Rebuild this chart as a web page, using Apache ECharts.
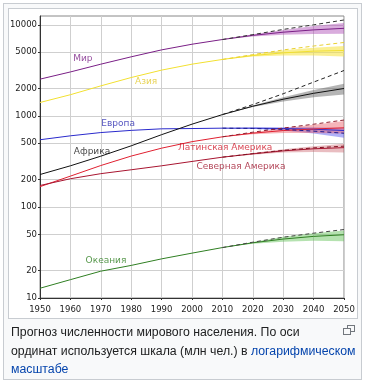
<!DOCTYPE html>
<html><head><meta charset="utf-8">
<script src="https://cdn.jsdelivr.net/npm/echarts@6/dist/echarts.min.js"></script>
<style>
html,body{margin:0;padding:0;width:370px;height:382px;background:#fff;overflow:hidden}
#outer{position:absolute;left:3px;top:3px;width:357px;height:375px;border:1px solid #c8ccd1;background:#f8f9fa}
#img{position:absolute;left:8px;top:8px;width:348px;height:309px;border:1px solid #c8ccd1;background:#fff}
#chart{position:absolute;left:0;top:0;width:370px;height:382px}
#cap{position:absolute;left:11px;top:323px;font-size:12.3px;font-family:'Liberation Sans',Arial,sans-serif;line-height:18.5px;color:#202122;white-space:nowrap}
#cap a{color:#0645ad;text-decoration:none}
.m1{position:absolute;left:347px;top:325px;width:6px;height:5px;border:1px solid #72777d;background:#f8f9fa}
.m2{position:absolute;left:343px;top:328px;width:6px;height:5px;border:1px solid #72777d;background:#f8f9fa}
</style></head>
<body>
<div id="outer"></div>
<div id="img"></div>
<div id="chart"></div>
<div class="m1"></div><div class="m2"></div>
<div id="cap">Прогноз численности мирового населения. По оси<br>ординат используется шкала (млн чел.) в <a href="#">логарифмическом</a><br><a href="#">масштабе</a></div>
<script>
// ---- data (millions) ----
const histYears = [1950, 1960, 1970, 1980, 1990, 2000, 2010];
const projYears = [2010, 2020, 2030, 2040, 2050];
const yTicks = [10, 20, 50, 100, 200, 500, 1000, 2000, 5000, 10000];

const worldHist = [2532, 3038, 3696, 4453, 5306, 6123, 6896];
const worldMed = [6896, 7660, 8300, 8800, 9150];
const worldLow = [6896, 7450, 7800, 7950, 7960];
const worldHigh = [6896, 7870, 8800, 9700, 10460];
const worldConst = [6896, 7800, 8900, 10000, 11300];

const asiaHist = [1403, 1708, 2135, 2638, 3181, 3698, 4167];
const asiaMed = [4167, 4600, 4920, 5140, 5230];
const asiaLow = [4167, 4480, 4600, 4600, 4480];
const asiaHigh = [4167, 4720, 5250, 5600, 5850];
const asiaConst = [4167, 4700, 5300, 5850, 6400];

const africaHist = [227, 283, 361, 469, 622, 811, 1033];
const africaMed = [1033, 1276, 1524, 1770, 1998];
const africaLow = [1033, 1250, 1440, 1600, 1720];
const africaHigh = [1033, 1300, 1600, 1930, 2250];
const africaConst = [1033, 1330, 1750, 2350, 3150];

const europeHist = [547, 604, 656, 693, 721, 726, 733];
const europeMed = [733, 733, 726, 713, 691];
const europeLow = [733, 720, 690, 640, 575];
const europeHigh = [733, 745, 750, 750, 735];
const europeConst = [733, 728, 710, 680, 645];

const latamHist = [167, 218, 285, 362, 442, 521, 589];
const latamMed = [589, 646, 690, 718, 740];
const latamLow = [589, 630, 650, 650, 640];
const latamHigh = [589, 662, 730, 800, 880];
const latamConst = [589, 662, 735, 810, 900];

const naHist = [172, 204, 232, 256, 283, 316, 352];
const naMed = [352, 383, 413, 435, 448];
const naLow = [352, 375, 395, 400, 395];
const naHigh = [352, 392, 430, 465, 495];
const naConst = [352, 385, 418, 445, 465];

const oceHist = [12.8, 15.9, 19.7, 22.8, 26.9, 31.1, 35.8];
const oceMed = [35.8, 40.4, 44.4, 47.5, 49.5];
const oceLow = [35.8, 39.5, 41.5, 42.5, 42];
const oceHigh = [35.8, 41.3, 47, 51.5, 55];
const oceConst = [35.8, 41, 46.5, 51.5, 56.5];

// label anchors [year, value]
const labelNames = ['Мир', 'Азия', 'Европа', 'Африка', 'Латинская Америка', 'Северная Америка', 'Океания'];
const labelAnchors = [[1964.1, 4230], [1984.9, 2365], [1975.7, 817], [1967.1, 402], [2010.9, 445], [2016.1, 276], [1971.7, 25.5]];

const regions = [
  {hist: worldHist, med: worldMed, low: worldLow, high: worldHigh, cst: worldConst, line: '#7a1f86', band: 'rgba(170,70,180,0.45)', dash: '#333', label: '#7a1f86'},
  {hist: asiaHist, med: asiaMed, low: asiaLow, high: asiaHigh, cst: asiaConst, line: '#f2e030', band: 'rgba(245,225,60,0.55)', dash: '#e8d030', label: '#e2c82a'},
  {hist: europeHist, med: europeMed, low: europeLow, high: europeHigh, cst: europeConst, line: '#2a2acc', band: 'rgba(80,80,240,0.45)', dash: '#1a1a90', label: '#2a2ab0'},
  {hist: africaHist, med: africaMed, low: africaLow, high: africaHigh, cst: africaConst, line: '#111', band: 'rgba(90,90,90,0.45)', dash: '#222', label: '#111'},
  {hist: latamHist, med: latamMed, low: latamLow, high: latamHigh, cst: latamConst, line: '#e02030', band: 'rgba(235,90,100,0.45)', dash: '#902030', label: '#d01828'},
  {hist: naHist, med: naMed, low: naLow, high: naHigh, cst: naConst, line: '#a81530', band: 'rgba(200,90,100,0.40)', dash: '#801020', label: '#a01830'},
  {hist: oceHist, med: oceMed, low: oceLow, high: oceHigh, cst: oceConst, line: '#2f7f22', band: 'rgba(90,190,80,0.45)', dash: '#444', label: '#2f7f22'}
];

const series = [];
regions.forEach((r) => {
  series.push({
    type: 'custom', silent: true, z: 1,
    data: projYears.map((y, k) => [y, r.low[k], r.high[k]]),
    encode: {x: 0, y: [1, 2]},
    renderItem: (params, api) => {
      if (params.dataIndex !== 0) return null;
      const top = projYears.map((y, k) => api.coord([y, r.high[k]]));
      const bot = projYears.map((y, k) => api.coord([y, r.low[k]])).reverse();
      return {type: 'polygon', shape: {points: top.concat(bot)}, style: {fill: r.band}};
    }
  });
});
regions.forEach((r) => {
  const full = histYears.map((y, k) => [y, r.hist[k]]).concat(projYears.slice(1).map((y, k) => [y, r.med[k + 1]]));
  series.push({type: 'line', data: full, symbol: 'none', lineStyle: {color: r.line, width: 1}, z: 3});
  series.push({type: 'line', data: projYears.map((y, k) => [y, r.cst[k]]), symbol: 'none', lineStyle: {color: r.dash, width: 1, type: [4, 3]}, z: 4});
});
series.push({
  type: 'scatter', symbolSize: 1, itemStyle: {color: 'rgba(0,0,0,0)'}, z: 5,
  data: labelAnchors.map((a, k) => ({value: a, name: labelNames[k], label: {color: regions[k].label}})),
  label: {show: true, position: 'inside', formatter: p => p.name, fontSize: 9, fontFamily: 'DejaVu Sans'}
});

const chart = echarts.init(document.getElementById('chart'), null, {renderer: 'canvas'});
chart.setOption({
  animation: false,
  backgroundColor: 'transparent',
  grid: {left: 40, right: 26, top: 16, bottom: 84, show: true, borderColor: '#888', borderWidth: 1},
  xAxis: {
    type: 'value', min: 1950, max: 2050, interval: 10,
    axisLine: {show: true, lineStyle: {color: '#333'}},
    axisTick: {show: true, length: 2, lineStyle: {color: '#333'}},
    axisLabel: {formatter: v => String(v), fontSize: 8.5, fontFamily: 'DejaVu Sans', color: '#222', margin: 7},
    splitLine: {show: true, lineStyle: {color: '#cfcfcf'}}
  },
  yAxis: {
    type: 'log', logBase: 10, min: 10, max: 12500,
    axisLine: {show: true, lineStyle: {color: '#333'}},
    axisTick: {show: true, length: 2, customValues: yTicks, lineStyle: {color: '#333'}},
    axisLabel: {customValues: yTicks, formatter: v => String(Math.round(v)), fontSize: 8.5, fontFamily: 'DejaVu Sans', color: '#222', margin: 3},
    splitLine: {show: true, lineStyle: {color: '#cfcfcf'}}
  },
  series: series
});
</script>
</body></html>
